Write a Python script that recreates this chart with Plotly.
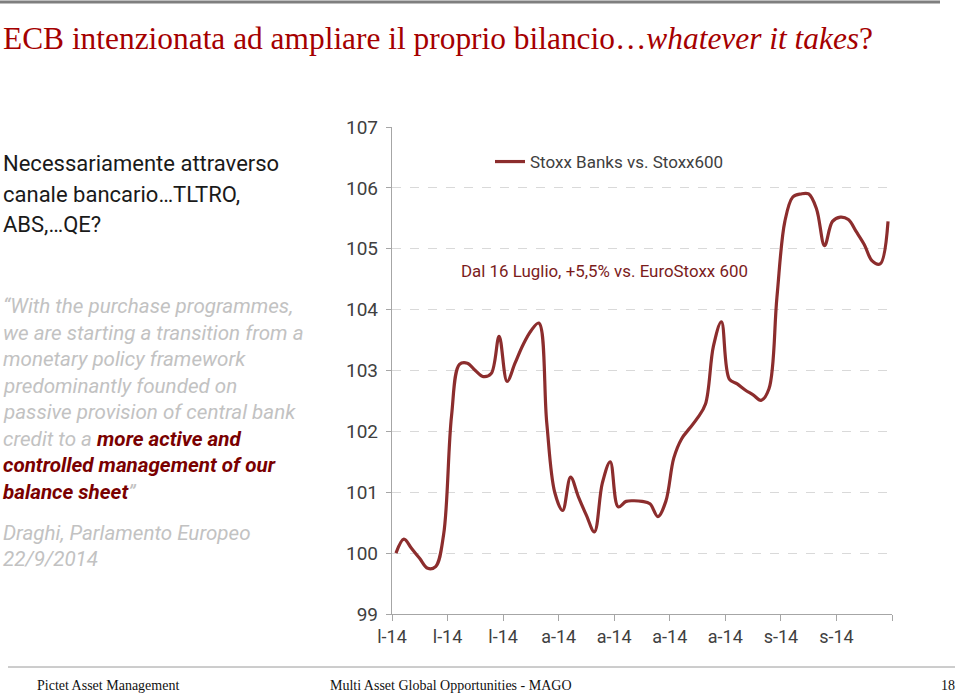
import plotly.graph_objects as go
import pandas as pd

# ---- data ----
start_date = "2014-07-16"
values = [100.00, 100.23, 100.07, 99.91, 99.75, 99.78, 100.30, 102.25, 103.10, 103.12,
          103.00, 102.90, 102.95, 103.56, 102.82, 103.12, 103.42, 103.65, 103.78, 102.14,
          101.00, 100.70, 101.25, 100.92, 100.62, 100.35, 101.15, 101.50, 100.76, 100.85,
          100.86, 100.85, 100.81, 100.60, 100.85, 101.56, 101.88, 102.05, 102.22, 102.45,
          103.40, 103.80, 102.86, 102.78, 102.68, 102.60, 102.51, 102.70, 104.20, 105.45,
          105.85, 105.90, 105.90, 105.65, 105.05, 105.45, 105.52, 105.48, 105.28, 105.07,
          104.80, 104.75, 105.45]
dates = pd.date_range(start_date, periods=len(values), freq="D")
series_name = "Stoxx Banks vs. Stoxx600"
tick_labels = ["l-14", "l-14", "l-14", "a-14", "a-14", "a-14", "a-14", "s-14", "s-14", ""]
y_ticks = [99, 100, 101, 102, 103, 104, 105, 106, 107]

# ---- geometry helpers (pixel -> paper) ----
W, H = 960, 695
L, R, T, B = 392, 892, 127, 614
def px(x):
    return (x - L) / (R - L)
def py(y):
    return (B - y) / (B - T)

tick_dates = [dates[0] - pd.Timedelta(hours=12) + pd.Timedelta(days=7 * k) for k in range(len(tick_labels))]
x_range = [tick_dates[0], tick_dates[-1]]

LINE_COLOR = "#8c2d2d"
SERIF = "Liberation Serif, Times New Roman, serif"
SANS = "Roboto, sans-serif"

fig = go.Figure()
fig.add_trace(go.Scatter(x=dates, y=values, mode="lines", name=series_name,
                         line=dict(color=LINE_COLOR, width=3.2, shape="spline", smoothing=1.0),
                         showlegend=True))

fig.update_layout(
    width=W, height=H,
    margin=dict(l=L, r=W - R, t=T, b=H - B),
    paper_bgcolor="white", plot_bgcolor="white",
    font=dict(family=SANS, color="#404040"),
    legend=dict(x=px(490), y=py(162), xanchor="left", yanchor="middle",
                font=dict(size=17, color="#404040"), bgcolor="rgba(0,0,0,0)",
                itemwidth=30),
    xaxis=dict(type="date", range=x_range, tickmode="array", tickvals=tick_dates,
               ticktext=tick_labels, showgrid=False, showline=True, linecolor="#a6a6a6",
               linewidth=1.3, ticks="outside", ticklen=6, tickcolor="#a6a6a6",
               tickfont=dict(size=18, color="#404040"), zeroline=False, fixedrange=True),
    yaxis=dict(range=[99, 107], tickmode="array", tickvals=y_ticks,
               ticktext=[str(v) for v in y_ticks], showgrid=True, gridcolor="#d9d9d9",
               griddash="dash", gridwidth=1, showline=True, linecolor="#a6a6a6",
               linewidth=1.3, ticks="outside", ticklen=5, tickcolor="#a6a6a6",
               tickfont=dict(size=19, color="#404040"), zeroline=False, ticklabelstandoff=4,
               fixedrange=True),
)

ann = []
def text(x, y, s, size, color, family, xanchor="left"):
    ann.append(dict(x=px(x), y=py(y), xref="paper", yref="paper", text=s, showarrow=False,
                    xanchor=xanchor, yanchor="middle", align="left",
                    font=dict(size=size, color=color, family=family)))

text(1, 38, "ECB intenzionata ad ampliare il proprio bilancio…<i>whatever it takes</i>?", 31.4, "#a50000", SERIF)
text(1, 163, "Necessariamente attraverso", 22, "#1a1a1a", SANS)
text(1, 194, "canale bancario…TLTRO,", 22, "#1a1a1a", SANS)
text(1, 224, "ABS,…QE?", 22, "#1a1a1a", SANS)

GRAY = "#c2c2c2"
RED = "#7a0000"
quote_lines = [
    (306, "<i>“With the purchase programmes,</i>"),
    (333, "<i>we are starting a transition from a</i>"),
    (359, "<i>monetary policy framework</i>"),
    (386, "<i>predominantly founded on</i>"),
    (412, "<i>passive provision of central bank</i>"),
    (439, f"<i>credit to a <b><span style='color:{RED}'>more active and</span></b></i>"),
    (465, f"<i><b><span style='color:{RED}'>controlled management of our</span></b></i>"),
    (492, f"<i><b><span style='color:{RED}'>balance sheet</span></b>”</i>"),
    (533, "<i>Draghi, Parlamento Europeo</i>"),
    (559, "<i>22/9/2014</i>"),
]
for y, s in quote_lines:
    text(1, y, s, 20.6, GRAY, SANS)

text(459, 271, "Dal 16 Luglio, +5,5% vs. EuroStoxx 600", 16.9, "#7b1c1c", SANS)

text(35, 685, "Pictet Asset Management", 14, "#111111", SERIF)
text(328, 685, "Multi Asset Global Opportunities - MAGO", 14, "#111111", SERIF)
text(957, 685, "18", 14, "#111111", SERIF, xanchor="right")
fig.update_layout(annotations=ann)

fig.add_shape(type="line", xref="paper", yref="paper", x0=px(0), x1=px(940), y0=py(2), y1=py(2),
              line=dict(color="#7f7f7f", width=3))
fig.add_shape(type="line", xref="paper", yref="paper", x0=px(8), x1=px(955), y0=py(667), y1=py(667),
              line=dict(color="#9a9a9a", width=1))

fig.write_html("out.html", config={"displayModeBar": False},
               post_script="document.body.style.margin='0';document.body.style.overflow='hidden';")
